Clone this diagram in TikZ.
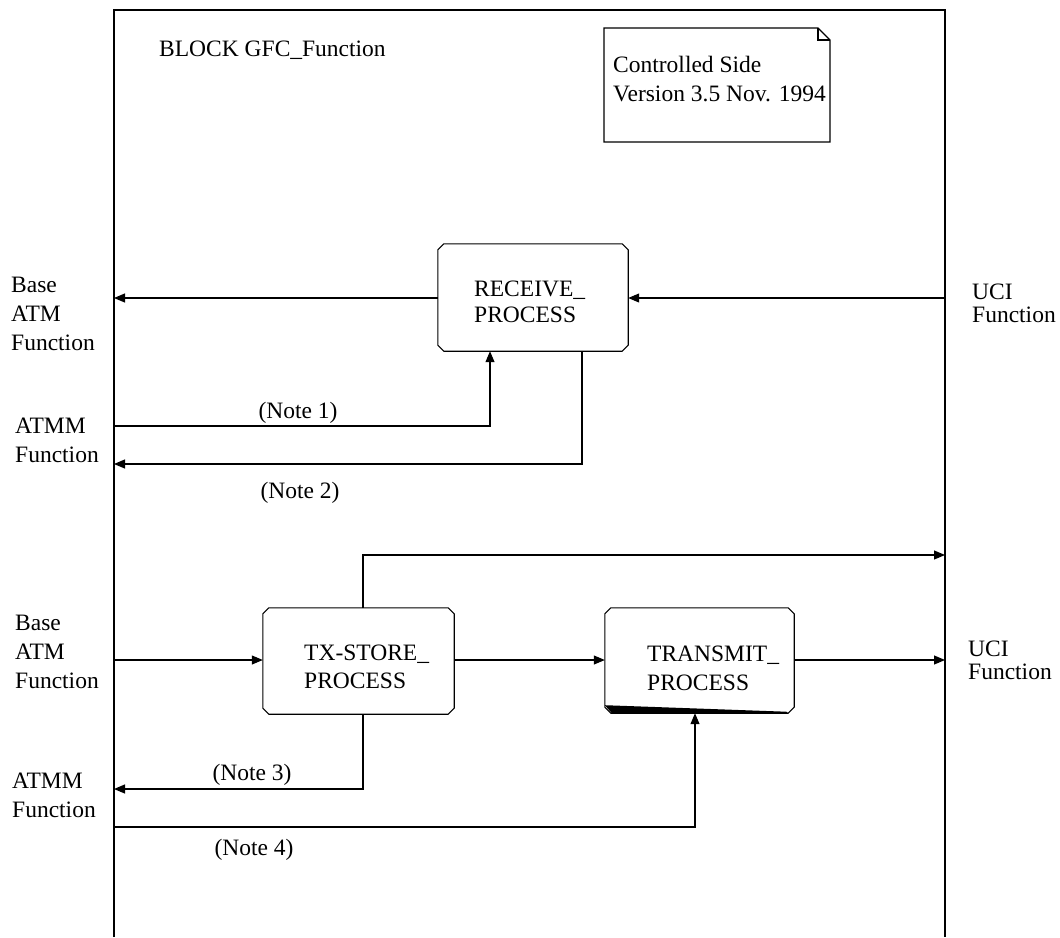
\documentclass[tikz,border=0pt]{standalone}
\usepackage{fontspec}
\setmainfont{Liberation Serif}
\usetikzlibrary{arrows.meta,calc}
\begin{document}
\begin{tikzpicture}[x=1pt,y=-1pt,
  line/.style={draw=black,line width=1.1pt},
  arr/.style={line,-{Triangle[length=11pt,width=9pt]}},
  lbl/.style={font=\fontsize{23.5}{29}\selectfont,inner sep=0pt,align=left,anchor=base west},
  lbltight/.style={lbl,font=\fontsize{23.5}{22.5}\selectfont},
  lblbox/.style={lbl,font=\fontsize{23.5}{27}\selectfont},
  notelbl/.style={font=\fontsize{23.5}{29}\selectfont,inner sep=0pt,anchor=base},
  procbox/.style={rectangle,inner sep=0pt,draw=none,minimum width=190pt,minimum height=106pt}]
\useasboundingbox (0,0) rectangle (1060,937);
\fill[white] (0,0) rectangle (1060,937);
% frame
\draw[line] (114,937) -- (114,10) -- (945,10) -- (945,937);
\node[lbl] (title) at (159,56.5) {BLOCK GFC\_Function};
% note box
\draw[line] (604,28) -- (818,28) -- (830,40) -- (830,142) -- (604,142) -- cycle;
\draw[line] (818,28) -- (818,40) -- (830,40);
\node[lbl] (version) at (613,101) {Controlled Side\\Version 3.5 Nov. 1994};
% process boxes
\node[procbox,minimum height=107pt] (rec) at (533,297.5) {};
\node[procbox,minimum width=191pt] (tx) at (358.5,661) {};
\node[procbox,minimum width=189pt,minimum height=105pt] (tr) at (699.5,660.5) {};
\foreach \b in {rec,tx,tr}{
  \draw[line] ($(\b.north west)+(6,0)$) -- ($(\b.north east)+(-6,0)$) -- ($(\b.north east)+(0,6)$)
    -- ($(\b.south east)+(0,-6)$) -- ($(\b.south east)+(-6,0)$) -- ($(\b.south west)+(6,0)$)
    -- ($(\b.south west)+(0,-6)$) -- ($(\b.north west)+(0,6)$) -- cycle;
}
\fill[black] ($(tr.south west)+(0,-8)$) -- ($(tr.south west)+(7,0)$) -- ($(tr.south east)+(-6,0)$) -- ($(tr.south east)+(-8,-1.5)$) -- cycle;
\node[lblbox,font=\fontsize{23.5}{26}\selectfont] (recT) at (474,322) {RECEIVE\_\\PROCESS};
\node[lblbox,font=\fontsize{23.5}{28}\selectfont] (txT) at (304,688) {TX-STORE\_\\PROCESS};
\node[lblbox,font=\fontsize{23.5}{29}\selectfont] (trT) at (647,690) {TRANSMIT\_\\PROCESS};
% outside labels
\node[lbl] (baseA) at (11,350) {Base\\ATM\\Function};
\node[lbl] (atmmA) at (15,462) {ATMM\\Function};
\node[lbl] (baseB) at (15,688) {Base\\ATM\\Function};
\node[lbl] (atmmB) at (12,817) {ATMM\\Function};
\node[lbltight] (uciA) at (972,322) {UCI\\Function};
\node[lbltight] (uciB) at (968,679) {UCI\\Function};
\node[notelbl] (note1) at (298,418) {(Note 1)};
\node[notelbl] (note2) at (300,498) {(Note 2)};
\node[notelbl] (note3) at (252,780) {(Note 3)};
\node[notelbl] (note4) at (254,855) {(Note 4)};
% connector end points on the frame
\coordinate (uciInA) at (945,298);
\coordinate (baseOutA) at (114,298);
\coordinate (n1L) at (114,426);
\coordinate (n1C) at (490,426);
\coordinate (n2C) at (582,464);
\coordinate (n2L) at (114,464);
\coordinate (baseInB) at (114,660);
\coordinate (uciOutB) at (945,660);
\coordinate (upC) at (363,555);
\coordinate (upR) at (945,555);
\coordinate (n3C) at (363,789);
\coordinate (n3L) at (114,789);
\coordinate (n4L) at (114,827);
\coordinate (n4C) at (695,827);
% connectors
\draw[arr] (uciInA) -- (rec.east |- uciInA);
\draw[arr] (rec.west |- baseOutA) -- (baseOutA);
\draw[arr] (n1L) -- (n1C) -- (n1C |- rec.south);
\draw[arr] (n2C |- rec.south) -- (n2C) -- (n2L);
\draw[arr] (baseInB) -- (tx.west |- baseInB);
\draw[arr] (tx.east |- baseInB) -- (tr.west |- baseInB);
\draw[arr] (tr.east |- uciOutB) -- (uciOutB);
\draw[arr] (upC |- tx.north) -- (upC) -- (upR);
\draw[arr] (n3C |- tx.south) -- (n3C) -- (n3L);
\draw[arr] (n4L) -- (n4C) -- (n4C |- tr.south);
\end{tikzpicture}
\end{document}
